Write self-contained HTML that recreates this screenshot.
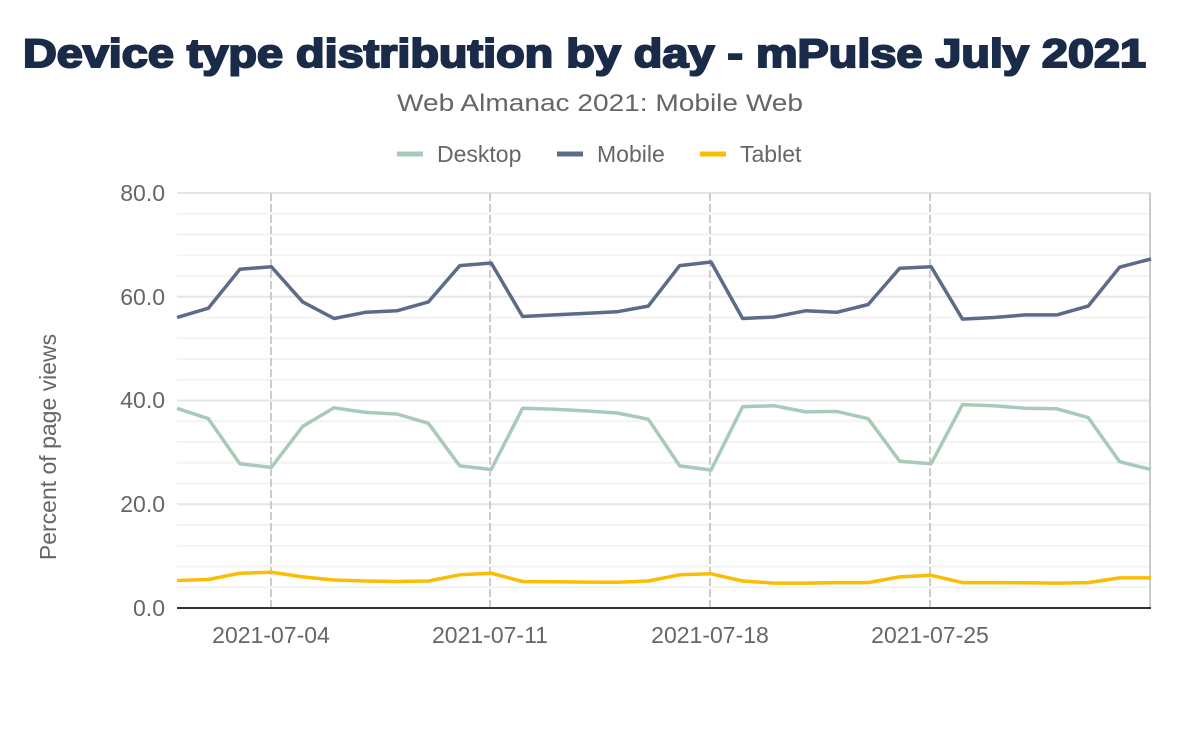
<!DOCTYPE html>
<html><head><meta charset="utf-8"><style>
body{margin:0;background:#fff;width:1200px;height:742px;overflow:hidden}
svg text{font-family:"Liberation Sans",sans-serif}
</style></head><body>
<svg width="1200" height="742" viewBox="0 0 1200 742" xmlns="http://www.w3.org/2000/svg">
<text x="23" y="67" textLength="1123" lengthAdjust="spacingAndGlyphs" font-size="40" font-weight="900" fill="#1a2b49" stroke="#1a2b49" stroke-width="2">Device type distribution by day - mPulse July 2021</text>
<text x="600" y="111" text-anchor="middle" font-size="24" fill="#666" textLength="406" lengthAdjust="spacingAndGlyphs">Web Almanac 2021: Mobile Web</text>
<g font-size="23" fill="#666">
<line x1="397" y1="154" x2="423" y2="154" stroke="#a8cbb7" stroke-width="5"/><text x="437" y="162">Desktop</text>
<line x1="557" y1="154" x2="583" y2="154" stroke="#5c6b89" stroke-width="5"/><text x="597" y="162">Mobile</text>
<line x1="700" y1="154" x2="726" y2="154" stroke="#fbbc04" stroke-width="5"/><text x="740" y="162">Tablet</text>
</g>
<g stroke="#f3f3f3" stroke-width="2">
<line x1="177" x2="1151" y1="587.25" y2="587.25"/><line x1="177" x2="1151" y1="566.5" y2="566.5"/><line x1="177" x2="1151" y1="545.75" y2="545.75"/><line x1="177" x2="1151" y1="525" y2="525"/>
<line x1="177" x2="1151" y1="483.5" y2="483.5"/><line x1="177" x2="1151" y1="462.75" y2="462.75"/><line x1="177" x2="1151" y1="442" y2="442"/><line x1="177" x2="1151" y1="421.25" y2="421.25"/>
<line x1="177" x2="1151" y1="379.75" y2="379.75"/><line x1="177" x2="1151" y1="359" y2="359"/><line x1="177" x2="1151" y1="338.25" y2="338.25"/><line x1="177" x2="1151" y1="317.5" y2="317.5"/>
<line x1="177" x2="1151" y1="276" y2="276"/><line x1="177" x2="1151" y1="255.25" y2="255.25"/><line x1="177" x2="1151" y1="234.5" y2="234.5"/><line x1="177" x2="1151" y1="213.75" y2="213.75"/>
</g>
<g stroke="#e6e6e6" stroke-width="2">
<line x1="177" x2="1151" y1="193" y2="193"/><line x1="177" x2="1151" y1="296.75" y2="296.75"/><line x1="177" x2="1151" y1="400.5" y2="400.5"/><line x1="177" x2="1151" y1="504.25" y2="504.25"/>
</g>
<g stroke="#ccc" stroke-width="2" stroke-dasharray="8,3">
<line x1="271" y1="193" x2="271" y2="608"/><line x1="490" y1="193" x2="490" y2="608"/>
<line x1="710" y1="193" x2="710" y2="608"/><line x1="930" y1="193" x2="930" y2="608"/>
</g>
<line x1="1150" y1="193" x2="1150" y2="608" stroke="#ccc" stroke-width="2"/>
<line x1="177" y1="608" x2="1151" y2="608" stroke="#333" stroke-width="2"/>
<g font-size="23" fill="#666" text-anchor="end">
<text x="165" y="201">80.0</text><text x="165" y="305">60.0</text><text x="165" y="408">40.0</text><text x="165" y="512">20.0</text><text x="165" y="616">0.0</text>
</g>
<g font-size="23" fill="#666" text-anchor="middle">
<text x="271" y="643">2021-07-04</text><text x="490" y="643">2021-07-11</text><text x="710" y="643">2021-07-18</text><text x="930" y="643">2021-07-25</text>
</g>
<text transform="translate(56,447) rotate(-90)" text-anchor="middle" font-size="23" fill="#666">Percent of page views</text>
<g fill="none" stroke-width="3.5" stroke-linejoin="round">
<polyline stroke="#a8cbb7" points="177,408.3 208.4,418.7 239.8,463.8 271.3,467.4 302.7,426.4 334.1,407.8 365.5,412.4 396.9,414 428.4,423.3 459.8,465.9 491.2,469.5 522.6,408.3 554,409.3 585.5,410.9 616.9,413 648.3,419.2 679.7,465.9 711.1,470 742.6,406.7 774,405.7 805.4,411.9 836.8,411.4 868.2,418.7 899.7,461.2 931.1,463.8 962.5,404.6 993.9,405.7 1025.3,408.3 1056.8,408.8 1088.2,417.6 1119.6,461.7 1151,469.5"/>
<polyline stroke="#5c6b89" points="177,317.5 208.4,308.2 239.8,269.3 271.3,266.7 302.7,301.9 334.1,318.5 365.5,312.3 396.9,310.8 428.4,301.9 459.8,265.6 491.2,263 522.6,316.5 554,314.9 585.5,313.4 616.9,311.8 648.3,306.1 679.7,265.6 711.1,262 742.6,318.5 774,317 805.4,310.8 836.8,312.3 868.2,304.5 899.7,268.2 931.1,266.7 962.5,319.1 993.9,317.5 1025.3,314.9 1056.8,314.9 1088.2,306.1 1119.6,267.2 1151,258.9"/>
<polyline stroke="#fbbc04" points="177,580.5 208.4,579.5 239.8,573.2 271.3,572.2 302.7,576.9 334.1,580 365.5,581 396.9,581.5 428.4,581 459.8,574.8 491.2,573.2 522.6,581.5 554,581.8 585.5,582.1 616.9,582.3 648.3,581 679.7,574.8 711.1,573.8 742.6,581 774,583.1 805.4,583.1 836.8,582.6 868.2,582.6 899.7,576.9 931.1,575.3 962.5,582.6 993.9,582.6 1025.3,582.8 1056.8,583.1 1088.2,582.6 1119.6,577.9 1151,577.9"/>
</g>
</svg>
</body></html>
